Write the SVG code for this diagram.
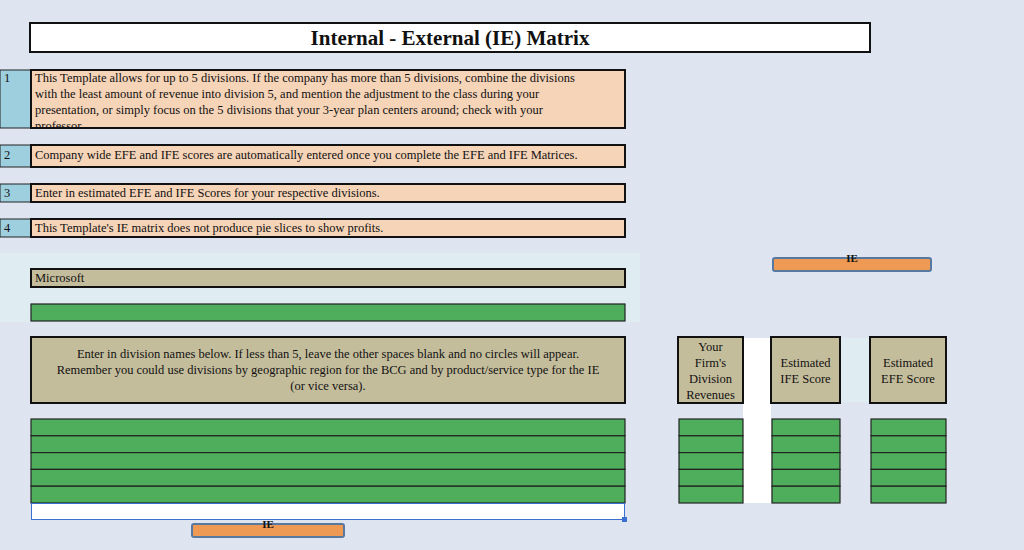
<svg xmlns="http://www.w3.org/2000/svg" width="1024" height="550" viewBox="0 0 1024 550">
<style>
text{font-family:"Liberation Serif",serif;fill:#111}
.t{font-size:12.5px}
.num{fill:#9ecfdf;stroke:#222;stroke-width:1}
.note{fill:#f6d4b8;stroke:#111;stroke-width:2}
.tan{fill:#c4bd9c;stroke:#111;stroke-width:2}
.grn{fill:#4fae5b;stroke:#222;stroke-width:1.2}
.org{fill:#ee9a55;stroke:#5878a0;stroke-width:2}
</style>
<rect width="1024" height="550" fill="#dfe5f0"/>
<g id="title"><rect x="30" y="23" width="840" height="29" fill="#fff" stroke="#111" stroke-width="2"/>
<text x="450" y="45" text-anchor="middle" font-size="21" font-weight="bold">Internal - External (IE) Matrix</text></g>
<g id="note1"><rect class="num" x="0" y="70" width="31" height="58"/><text class="t" x="4" y="82">1</text>
<rect class="note" x="31" y="70" width="594" height="58"/>
<clipPath id="c1"><rect x="31" y="70" width="594" height="57"/></clipPath>
<g clip-path="url(#c1)"><text class="t" x="35" y="82">This Template allows for up to 5 divisions. If the company has more than 5 divisions, combine the divisions</text>
<text class="t" x="35" y="98">with the least amount of revenue into division 5, and mention the adjustment to the class during your</text>
<text class="t" x="35" y="114">presentation, or simply focus on the 5 divisions that your 3-year plan centers around; check with your</text>
<text class="t" x="35" y="130">professor.</text></g></g>
<g id="note2"><rect class="num" x="0" y="145" width="31" height="22"/><text class="t" x="4" y="159">2</text>
<rect class="note" x="31" y="145" width="594" height="22"/><text class="t" x="35" y="159">Company wide EFE and IFE scores are automatically entered once you complete the EFE and IFE Matrices.</text></g>
<g id="note3"><rect class="num" x="0" y="184" width="31" height="18"/><text class="t" x="4" y="197">3</text>
<rect class="note" x="31" y="184" width="594" height="18"/><text class="t" x="35" y="197">Enter in estimated EFE and IFE Scores for your respective divisions.</text></g>
<g id="note4"><rect class="num" x="0" y="219" width="31" height="18"/><text class="t" x="4" y="232">4</text>
<rect class="note" x="31" y="219" width="594" height="18"/><text class="t" x="35" y="232">This Template's IE matrix does not produce pie slices to show profits.</text></g>
<rect x="0" y="253" width="640" height="69" fill="#dfedf2"/>
<g id="company"><rect class="tan" x="31" y="269" width="594" height="18"/><text class="t" x="35" y="282">Microsoft</text>
<rect class="grn" x="31" y="304" width="594" height="17" stroke-width="2"/></g>
<rect x="743" y="338" width="28" height="165" fill="#fff"/>
<rect x="840" y="338" width="30" height="64" fill="#dfedf2"/>
<g id="instr"><rect class="tan" x="31" y="337" width="594" height="66"/>
<text class="t" text-anchor="middle"><tspan x="328" y="358">Enter in division names below. If less than 5, leave the other spaces blank and no circles will appear.</tspan><tspan x="328" y="374">Remember you could use divisions by geographic region for the BCG and by product/service type for the IE</tspan><tspan x="328" y="390">(or vice versa).</tspan></text></g>
<g id="hdr-rev"><rect class="tan" x="678" y="337" width="65" height="66"/>
<text class="t" text-anchor="middle"><tspan x="710.5" y="351">Your</tspan><tspan x="710.5" y="367">Firm's</tspan><tspan x="710.5" y="383">Division</tspan><tspan x="710.5" y="399">Revenues</tspan></text></g>
<g id="hdr-ife"><rect class="tan" x="771" y="337" width="69" height="66"/>
<text class="t" text-anchor="middle"><tspan x="805.5" y="367">Estimated</tspan><tspan x="805.5" y="383">IFE Score</tspan></text></g>
<g id="hdr-efe"><rect class="tan" x="870" y="337" width="76" height="66"/>
<text class="t" text-anchor="middle"><tspan x="908" y="367">Estimated</tspan><tspan x="908" y="383">EFE Score</tspan></text></g>
<g id="rows">
<rect class="grn" x="31" y="419" width="594" height="16.8"/><rect class="grn" x="31" y="435.8" width="594" height="16.8"/><rect class="grn" x="31" y="452.6" width="594" height="16.8"/><rect class="grn" x="31" y="469.4" width="594" height="16.8"/><rect class="grn" x="31" y="486.2" width="594" height="16.8"/>
<rect class="grn" x="679" y="419" width="64" height="16.8"/><rect class="grn" x="679" y="435.8" width="64" height="16.8"/><rect class="grn" x="679" y="452.6" width="64" height="16.8"/><rect class="grn" x="679" y="469.4" width="64" height="16.8"/><rect class="grn" x="679" y="486.2" width="64" height="16.8"/>
<rect class="grn" x="772" y="419" width="68" height="16.8"/><rect class="grn" x="772" y="435.8" width="68" height="16.8"/><rect class="grn" x="772" y="452.6" width="68" height="16.8"/><rect class="grn" x="772" y="469.4" width="68" height="16.8"/><rect class="grn" x="772" y="486.2" width="68" height="16.8"/>
<rect class="grn" x="871" y="419" width="75" height="16.8"/><rect class="grn" x="871" y="435.8" width="75" height="16.8"/><rect class="grn" x="871" y="452.6" width="75" height="16.8"/><rect class="grn" x="871" y="469.4" width="75" height="16.8"/><rect class="grn" x="871" y="486.2" width="75" height="16.8"/>
</g>
<g id="selection"><rect x="31.5" y="503.5" width="593" height="16" fill="#fff" stroke="#3b6fd0" stroke-width="1"/><rect x="622" y="517" width="5" height="5" fill="#3b6fd0"/></g>
<g id="ie-top"><rect class="org" x="773" y="258" width="158" height="13" rx="2"/><text x="852" y="262" text-anchor="middle" font-size="11" font-weight="bold">IE</text></g>
<g id="ie-bottom"><rect class="org" x="192" y="524" width="152" height="13" rx="2"/><text x="268" y="528" text-anchor="middle" font-size="11" font-weight="bold">IE</text></g>
</svg>
